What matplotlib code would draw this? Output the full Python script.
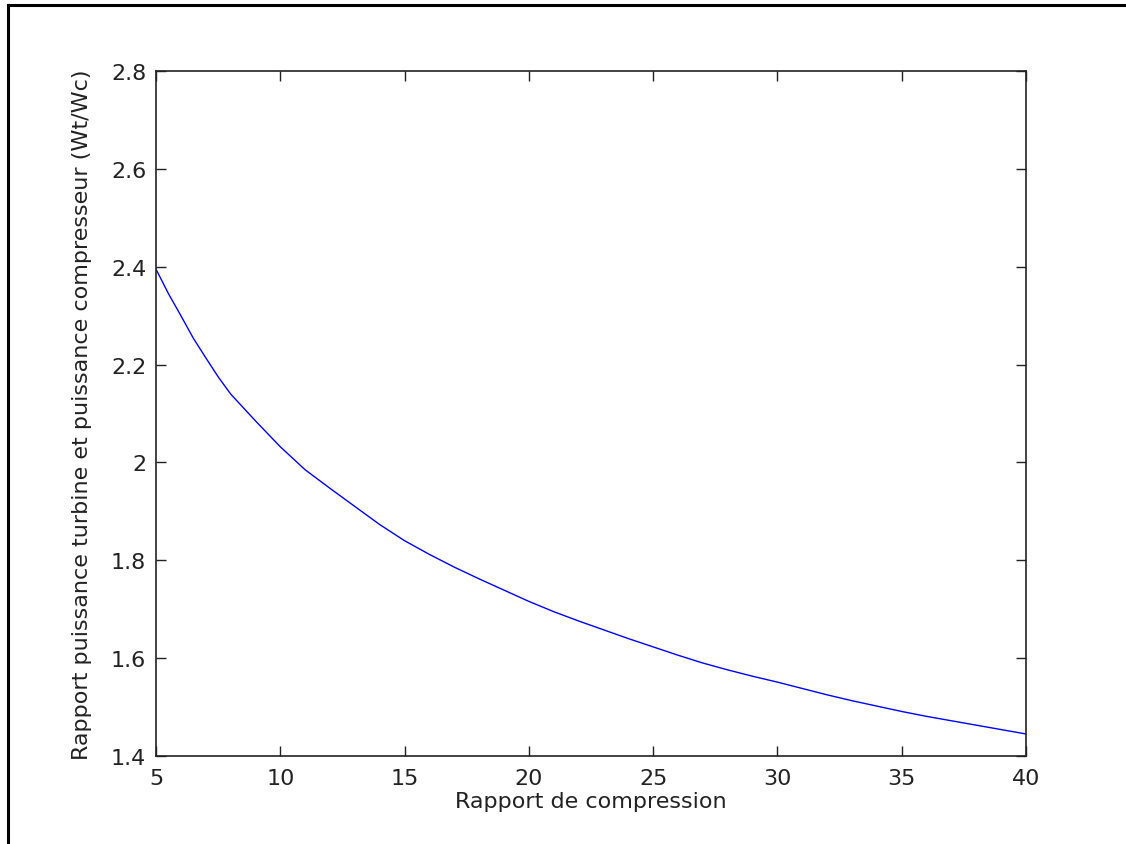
import matplotlib
matplotlib.use("Agg")
import matplotlib.pyplot as plt
from matplotlib.lines import Line2D

plt.rcParams['font.family'] = ['DejaVu Sans']

rapport_compression = [5, 5.5, 6, 6.5, 7, 7.5, 8, 9, 10, 11, 12, 13, 14, 15, 16, 17,
                       18, 19, 20, 21, 22, 23, 24, 25, 26, 27, 28, 29, 30, 31, 32,
                       33, 34, 35, 36, 37, 38, 39, 40]
rapport_wt_wc = [2.395, 2.345, 2.300, 2.254, 2.214, 2.175, 2.140, 2.085, 2.032,
                 1.985, 1.947, 1.910, 1.873, 1.840, 1.812, 1.786, 1.762, 1.739,
                 1.716, 1.695, 1.676, 1.658, 1.640, 1.623, 1.606, 1.590, 1.576,
                 1.563, 1.551, 1.538, 1.525, 1.513, 1.502, 1.491, 1.481, 1.472,
                 1.463, 1.454, 1.445]

xticks = [5, 10, 15, 20, 25, 30, 35, 40]
yticks = [1.4, 1.6, 1.8, 2.0, 2.2, 2.4, 2.6, 2.8]
ytick_labels = ['1.4', '1.6', '1.8', '2', '2.2', '2.4', '2.6', '2.8']

W, H = 1126, 845
fig = plt.figure(figsize=(W / 100, H / 100), dpi=100)
ax = fig.add_axes([156 / W, (H - 757) / H, (1026 - 156) / W, (757 - 72) / H])

ax.plot(rapport_compression, rapport_wt_wc, color='#0000ff', linewidth=1.0)
ax.set_xlim(5, 40)
ax.set_ylim(1.4, 2.8)
ax.set_xticks(xticks)
ax.set_yticks(yticks)
ax.set_yticklabels(ytick_labels)
ax.tick_params(direction='in', length=7, width=1, top=True, right=True,
               labelsize=16, colors='#222222')
ax.tick_params(axis='x', pad=9)
ax.tick_params(axis='y', pad=7)
for s in ax.spines.values():
    s.set_linewidth(1.2)
    s.set_color('#222222')

ax.set_xlabel('Rapport de compression', fontsize=16, color='#222222', labelpad=2)
ax.set_ylabel('Rapport puissance turbine et puissance compresseur (Wt/Wc)',
              fontsize=16, color='#222222', labelpad=14)

# outer window frame
fig.add_artist(Line2D([8 / W, 1.0], [1 - 6 / H, 1 - 6 / H], transform=fig.transFigure,
                      color='black', linewidth=2.2))
fig.add_artist(Line2D([8 / W, 8 / W], [0.0, 1 - 6 / H], transform=fig.transFigure,
                      color='black', linewidth=2.2))

fig.savefig('out.png', dpi=100, facecolor='white')
